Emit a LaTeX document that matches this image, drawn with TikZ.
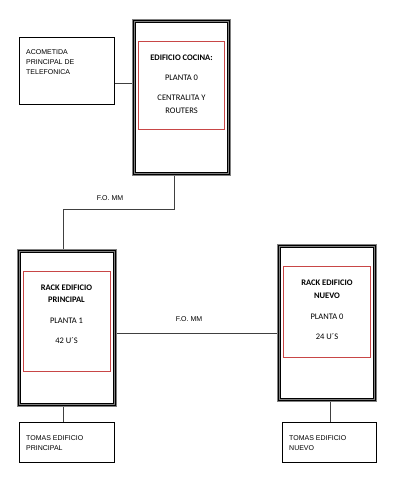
\documentclass[tikz,border=0pt]{standalone}
\usepackage{fontspec}
\setmainfont{Carlito}
\newfontfamily\arialfont{Liberation Sans}
\usetikzlibrary{calc}
\definecolor{redc}{RGB}{200,70,70}
\begin{document}
\begin{tikzpicture}[x=1pt,y=-1pt,
  frame/.style={draw=black!50, line width=2.4pt, postaction={draw=black, line width=0.9pt}, inner sep=0pt, fill=white},
  plainbox/.style={draw=black, line width=0.8pt, inner sep=0pt},
  redbox/.style={draw=redc, line width=0.7pt, inner sep=0pt},
  conn/.style={draw=black!75, line width=0.9pt},
  small/.style={font=\arialfont\fontsize{7}{10}\selectfont, inner sep=0pt},
  racktext/.style={align=center, inner sep=0pt}
]
\useasboundingbox (0,0) rectangle (405,480);

% kitchen building
\node[frame, minimum width=96pt, minimum height=154pt] (k) at (181.5,97.5) {};
\draw[line width=0.6pt] ([shift={(3.1pt,-3.1pt)}]k.north west) rectangle ([shift={(-3.1pt,3.1pt)}]k.south east);
\node[redbox, minimum width=86pt, minimum height=88pt] (kr) at (181.5,85) {};
\node[racktext, font=\fontsize{8.5}{13}\selectfont] (kt) at (181.5,84.5)
  {\textbf{EDIFICIO COCINA:}\\[7pt] PLANTA 0\\[7pt] CENTRALITA Y\\ ROUTERS};

% acometida
\node[plainbox, minimum width=95pt, minimum height=67pt] (a) at (67,71) {};
\node[small, anchor=north west, align=left] (at) at (26,49.5) {ACOMETIDA\\PRINCIPAL DE\\TELEFONICA};

% rack principal
\node[frame, minimum width=97pt, minimum height=155pt] (p) at (67,328) {};
\draw[line width=0.6pt] ([shift={(3.1pt,-3.1pt)}]p.north west) rectangle ([shift={(-3.1pt,3.1pt)}]p.south east);
\node[redbox, minimum width=87pt, minimum height=100pt] (pr) at (66.5,321) {};
\node[racktext, font=\fontsize{8.5}{12}\selectfont] (pt) at (66.5,314.5)
  {\textbf{RACK EDIFICIO}\\\textbf{PRINCIPAL}\\[9pt] PLANTA 1\\[8pt] 42 U´S};

% rack nuevo
\node[frame, minimum width=97pt, minimum height=155pt] (n) at (327,323) {};
\draw[line width=0.6pt] ([shift={(3.1pt,-3.1pt)}]n.north west) rectangle ([shift={(-3.1pt,3.1pt)}]n.south east);
\node[redbox, minimum width=87pt, minimum height=91pt] (nr) at (326.5,311.5) {};
\node[racktext, font=\fontsize{8.5}{13}\selectfont] (nt) at (327,310)
  {\textbf{RACK EDIFICIO}\\\textbf{NUEVO}\\[8pt] PLANTA 0\\[7pt] 24 U´S};

% tomas
\node[plainbox, minimum width=95pt, minimum height=40pt] (tp) at (67,442.5) {};
\node[small, anchor=north west, align=left] (tpt) at (26,435.5) {TOMAS EDIFICIO\\PRINCIPAL};
\node[plainbox, minimum width=94pt, minimum height=40pt] (tn) at (329.5,442.5) {};
\node[small, anchor=north west, align=left] (tnt) at (289,435.5) {TOMAS EDIFICIO\\NUEVO};

% connectors
\draw[conn] ([yshift=-12pt]a.east) -- ([yshift=-12pt]a.east -| k.west);
\draw[conn] ([xshift=-7.5pt]k.south) -- ++(0,33.5) -| ([xshift=-4pt]p.north);
\draw[conn] ([yshift=-5pt]p.east) -- ([yshift=-5pt]p.east -| n.west);
\draw[conn] ([xshift=-4pt]p.south) -- ([xshift=-4pt]p.south |- tp.north);
\draw[conn] ([xshift=3pt]n.south) -- ([xshift=3pt]n.south |- tn.north);

% labels
\node[small] (fo1) at (110,198.5) {F.O. MM};
\node[small] (fo2) at (189,319) {F.O. MM};
\end{tikzpicture}
\end{document}
